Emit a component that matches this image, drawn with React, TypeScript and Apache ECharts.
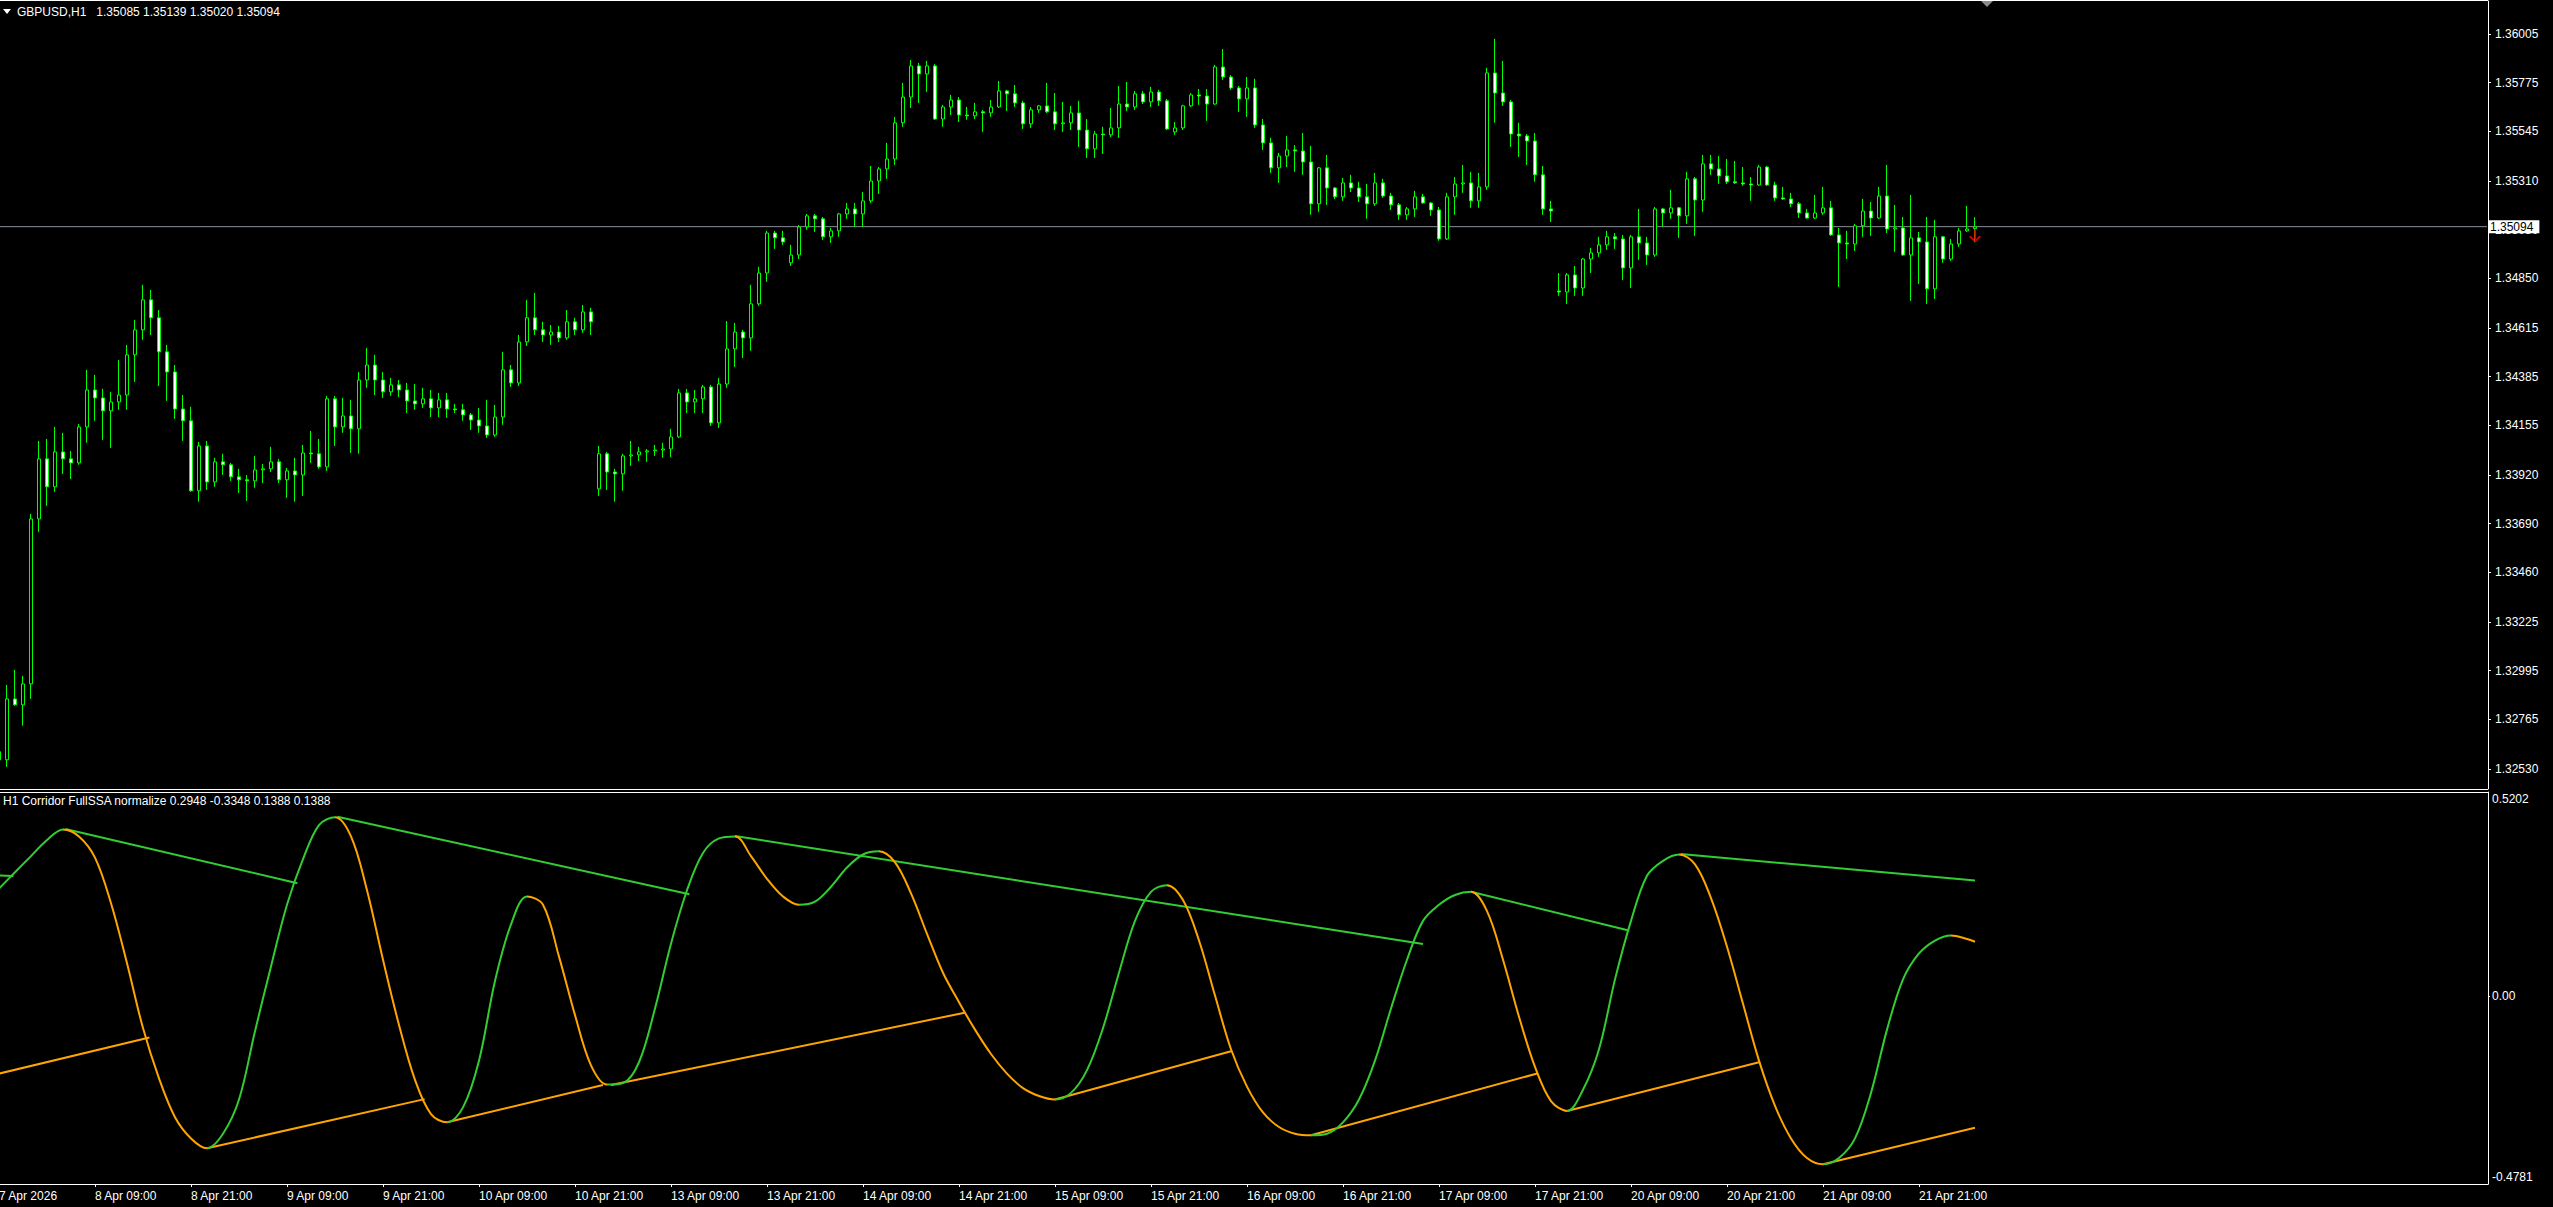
import React, { useEffect, useRef } from 'react';
import * as echarts from 'echarts';

const FONT = "'Liberation Sans', Arial, sans-serif";
const GREEN = '#32CD32';
const ORANGE = '#FFA500';
const CANDLE = '#00FF00';

// OHLC, bar index k = -1 .. 246 (7 Apr 21:00 .. 22 Apr 04:00), prices in points (1e-5)
const opens = [
  132611, 132573, 132861, 132833, 132932, 133712, 133996, 133864, 134029, 133996,
  133977, 134147, 134322, 134284, 134223, 134265, 134298, 134488, 134606, 134748,
  134663, 134502, 134407, 134232, 134176, 133845, 134057, 133887, 133982, 133968,
  133911, 133897, 133892, 133944, 133949, 133982, 133897, 133939, 133920, 134024,
  134020, 133958, 134280, 134147, 134199, 134138, 134369, 134440, 134369, 134313,
  134346, 134322, 134270, 134256, 134280, 134237, 134275, 134232, 134228, 134204,
  134180, 134152, 134109, 134194, 134417, 134355, 134549, 134663, 134606, 134582,
  134596, 134568, 134644, 134606, 134691, 133854, 134020, 133934, 133925, 134010,
  134015, 134029, 134034, 134038, 134043, 134100, 134308, 134265, 134280, 134336,
  134166, 134350, 134516, 134596, 134568, 134729, 134875, 135064, 135041, 134923,
  134960, 135093, 135145, 135131, 135046, 135074, 135154, 135178, 135154, 135216,
  135310, 135367, 135414, 135585, 135707, 135854, 135816, 135854, 135603, 135660,
  135693, 135622, 135618, 135637, 135632, 135660, 135736, 135722, 135679, 135580,
  135646, 135665, 135637, 135580, 135585, 135632, 135551, 135462, 135532, 135528,
  135561, 135674, 135660, 135722, 135684, 135731, 135689, 135542, 135561, 135665,
  135717, 135712, 135674, 135849, 135802, 135750, 135698, 135750, 135575, 135490,
  135372, 135428, 135457, 135452, 135400, 135202, 135372, 135277, 135235, 135301,
  135277, 135235, 135202, 135301, 135239, 135197, 135150, 135178, 135235, 135206,
  135173, 135036, 135235, 135296, 135301, 135216, 135282, 135821, 135726, 135684,
  135532, 135523, 135499, 135339, 135178, 134790, 134785, 134866, 134804, 134941,
  134970, 135008, 135046, 135036, 134899, 135046, 135017, 134960, 135178, 135159,
  135183, 135145, 135320, 135220, 135391, 135367, 135334, 135306, 135301, 135296,
  135291, 135376, 135291, 135230, 135225, 135202, 135159, 135135, 135159, 135183,
  135055, 135017, 135012, 135098, 135168, 135135, 135239, 135083, 135088, 134960,
  135041, 135022, 134800, 135046, 134941, 135012, 135074, 135085,
];
const highs = [
  132644, 132927, 132998, 132970, 133736, 134081, 134090, 134147, 134119, 134034,
  134161, 134417, 134393, 134327, 134313, 134464, 134535, 134653, 134819, 134795,
  134700, 134535, 134440, 134298, 134242, 134076, 134081, 134001, 134020, 133977,
  133949, 133920, 134010, 133972, 134053, 133996, 133953, 134001, 134062, 134128,
  134090, 134294, 134294, 134284, 134275, 134407, 134521, 134488, 134407, 134379,
  134369, 134355, 134350, 134332, 134322, 134308, 134308, 134256, 134256, 134213,
  134237, 134275, 134251, 134502, 134440, 134582, 134748, 134781, 134644, 134629,
  134625, 134700, 134663, 134724, 134710, 134057, 134029, 133949, 134020, 134081,
  134053, 134043, 134062, 134072, 134138, 134327, 134327, 134322, 134346, 134346,
  134379, 134648, 134639, 134606, 134819, 134904, 135074, 135074, 135074, 135008,
  135102, 135154, 135154, 135140, 135088, 135159, 135206, 135206, 135258, 135381,
  135376, 135490, 135613, 135774, 135882, 135868, 135878, 135863, 135670, 135717,
  135707, 135660, 135679, 135646, 135693, 135783, 135741, 135764, 135689, 135660,
  135670, 135774, 135726, 135684, 135665, 135689, 135603, 135547, 135566, 135655,
  135759, 135778, 135736, 135736, 135755, 135741, 135698, 135589, 135670, 135726,
  135745, 135745, 135859, 135934, 135811, 135759, 135802, 135793, 135603, 135514,
  135443, 135523, 135480, 135537, 135476, 135376, 135433, 135282, 135324, 135339,
  135306, 135296, 135348, 135320, 135254, 135206, 135187, 135263, 135249, 135211,
  135187, 135254, 135329, 135386, 135353, 135348, 135845, 135982, 135878, 135693,
  135585, 135532, 135537, 135381, 135216, 134875, 134875, 134908, 134946, 134994,
  135046, 135074, 135064, 135055, 135055, 135178, 135046, 135187, 135183, 135268,
  135187, 135353, 135329, 135433, 135433, 135428, 135414, 135405, 135376, 135329,
  135386, 135381, 135306, 135282, 135254, 135211, 135178, 135244, 135282, 135216,
  135088, 135074, 135107, 135225, 135211, 135282, 135386, 135197, 135140, 135244,
  135069, 135140, 135126, 135050, 135036, 135088, 135192, 135139,
];
const lows = [
  132549, 132540, 132828, 132734, 132861, 133651, 133774, 133840, 133925, 133901,
  133968, 134072, 134176, 134086, 134048, 134228, 134228, 134360, 134559, 134582,
  134341, 134270, 134185, 134081, 133840, 133793, 133849, 133864, 133920, 133892,
  133835, 133797, 133859, 133882, 133934, 133882, 133812, 133793, 133821, 133977,
  133949, 133939, 134057, 134119, 134024, 134020, 134332, 134298, 134284, 134294,
  134289, 134213, 134228, 134237, 134194, 134194, 134190, 134213, 134176, 134133,
  134119, 134095, 134100, 134157, 134336, 134341, 134530, 134582, 134549, 134535,
  134549, 134559, 134582, 134592, 134582, 133821, 133849, 133793, 133845, 133963,
  133986, 133982, 134010, 134001, 134005, 134095, 134213, 134213, 134213, 134152,
  134142, 134332, 134431, 134473, 134507, 134719, 134833, 134989, 135008, 134908,
  134941, 135079, 135069, 135031, 135017, 135046, 135131, 135093, 135093, 135206,
  135249, 135320, 135386, 135566, 135655, 135679, 135731, 135599, 135566, 135622,
  135589, 135599, 135603, 135542, 135613, 135655, 135641, 135660, 135556, 135561,
  135632, 135632, 135551, 135542, 135551, 135471, 135419, 135419, 135438, 135518,
  135514, 135641, 135646, 135674, 135660, 135665, 135551, 135528, 135551, 135660,
  135670, 135594, 135670, 135788, 135741, 135637, 135613, 135561, 135457, 135348,
  135301, 135376, 135353, 135339, 135150, 135164, 135197, 135225, 135216, 135258,
  135211, 135131, 135192, 135230, 135173, 135126, 135126, 135140, 135202, 135145,
  135027, 135031, 135150, 135254, 135183, 135183, 135268, 135585, 135665, 135471,
  135424, 135386, 135306, 135150, 135116, 134767, 134729, 134767, 134767, 134875,
  134951, 134984, 134989, 134842, 134804, 134937, 134913, 134951, 135093, 135131,
  135041, 135107, 135050, 135164, 135339, 135296, 135296, 135296, 135287, 135216,
  135287, 135287, 135216, 135220, 135187, 135135, 135131, 135131, 135150, 135050,
  134809, 134941, 134979, 135046, 135050, 135131, 135064, 134975, 134956, 134743,
  134823, 134729, 134752, 134923, 134932, 134998, 135069, 135020,
];
const closes = [
  132573, 132861, 132833, 132932, 133712, 133996, 133864, 134029, 133996, 133977,
  134147, 134322, 134284, 134223, 134265, 134298, 134488, 134606, 134748, 134663,
  134502, 134407, 134232, 134176, 133845, 134057, 133887, 133982, 133968, 133911,
  133897, 133892, 133944, 133949, 133982, 133897, 133939, 133920, 134024, 134020,
  133958, 134280, 134147, 134199, 134138, 134369, 134440, 134369, 134313, 134346,
  134322, 134270, 134256, 134280, 134237, 134275, 134232, 134228, 134204, 134180,
  134152, 134109, 134194, 134417, 134355, 134549, 134663, 134606, 134582, 134596,
  134568, 134644, 134606, 134691, 134644, 134020, 133934, 133925, 134010, 134015,
  134029, 134034, 134038, 134043, 134100, 134308, 134265, 134280, 134336, 134166,
  134350, 134516, 134596, 134568, 134729, 134875, 135064, 135041, 135022, 134960,
  135093, 135145, 135131, 135046, 135074, 135154, 135178, 135154, 135216, 135310,
  135367, 135414, 135585, 135707, 135854, 135816, 135854, 135603, 135660, 135693,
  135622, 135618, 135637, 135632, 135660, 135736, 135722, 135679, 135580, 135646,
  135665, 135637, 135580, 135585, 135632, 135551, 135462, 135532, 135528, 135561,
  135674, 135660, 135722, 135684, 135731, 135689, 135556, 135561, 135665, 135717,
  135712, 135674, 135849, 135802, 135750, 135698, 135750, 135575, 135490, 135372,
  135428, 135457, 135452, 135400, 135202, 135372, 135277, 135235, 135301, 135277,
  135235, 135202, 135301, 135239, 135197, 135150, 135178, 135235, 135206, 135173,
  135036, 135235, 135296, 135301, 135216, 135282, 135821, 135726, 135684, 135532,
  135523, 135499, 135339, 135178, 135168, 134785, 134866, 134804, 134941, 134970,
  135008, 135046, 135036, 134899, 135046, 135017, 134960, 135178, 135159, 135183,
  135145, 135320, 135220, 135391, 135367, 135334, 135306, 135301, 135296, 135291,
  135376, 135291, 135230, 135225, 135202, 135159, 135135, 135159, 135183, 135055,
  135017, 135012, 135098, 135168, 135135, 135239, 135083, 135088, 134960, 135041,
  135022, 134800, 135046, 134941, 135012, 135074, 135083, 135094,
];

const priceTicks = [1.36005, 1.35775, 1.35545, 1.3531, 1.3508, 1.3485, 1.34615, 1.34385, 1.34155, 1.3392, 1.3369, 1.3346, 1.33225, 1.32995, 1.32765, 1.3253];
const priceMin = 1.32435;
const priceMax = 1.36161;
const lastPrice = 1.35094;
const arrowBar = 246;
const arrowPrice = 1.3505;

const timeLabels = ['7 Apr 2026', '8 Apr 09:00', '8 Apr 21:00', '9 Apr 09:00', '9 Apr 21:00', '10 Apr 09:00', '10 Apr 21:00', '13 Apr 09:00', '13 Apr 21:00', '14 Apr 09:00', '14 Apr 21:00', '15 Apr 09:00', '15 Apr 21:00', '16 Apr 09:00', '16 Apr 21:00', '17 Apr 09:00', '17 Apr 21:00', '20 Apr 09:00', '20 Apr 21:00', '21 Apr 09:00', '21 Apr 21:00'];
const timeLabelBars = [-1, 11, 23, 35, 47, 59, 71, 83, 95, 107, 119, 131, 143, 155, 167, 179, 191, 203, 215, 227, 239];

// Indicator: oscillator samples (bar index, value)
const oscBars = [-1, 1, 3, 5, 7, 9, 11, 13, 15, 17, 19, 21, 23, 25, 27, 29, 31, 33, 35, 37, 39, 41, 43, 45, 47, 49, 51, 53, 55, 57, 59, 61, 63, 65, 67, 69, 71, 73, 75, 77, 79, 81, 83, 85, 87, 89, 91, 93, 95, 97, 99, 101, 103, 105, 107, 109, 111, 113, 115, 117, 119, 121, 123, 125, 127, 129, 131, 133, 135, 137, 139, 141, 143, 145, 147, 149, 151, 153, 155, 157, 159, 161, 163, 165, 167, 169, 171, 173, 175, 177, 179, 181, 183, 185, 187, 189, 191, 193, 195, 197, 199, 201, 203, 205, 207, 209, 211, 213, 215, 217, 219, 221, 223, 225, 227, 229, 231, 233, 235, 237, 239, 241, 243, 245, 246];
const oscVals = [
  0.274, 0.316, 0.357, 0.398, 0.425, 0.407, 0.353, 0.237, 0.084, -0.081,
  -0.209, -0.308, -0.362, -0.387, -0.35, -0.263, -0.089, 0.076, 0.233, 0.349,
  0.436, 0.456, 0.407, 0.27, 0.093, -0.073, -0.213, -0.3, -0.321, -0.283,
  -0.164, 0.039, 0.183, 0.254, 0.233, 0.101, -0.048, -0.176, -0.225, -0.221,
  -0.168, -0.031, 0.134, 0.27, 0.365, 0.402, 0.407, 0.357, 0.299, 0.254,
  0.233, 0.241, 0.279, 0.328, 0.361, 0.369, 0.341, 0.262, 0.159, 0.06,
  -0.015, -0.085, -0.147, -0.197, -0.234, -0.254, -0.263, -0.246, -0.188, -0.081,
  0.06, 0.192, 0.266, 0.283, 0.245, 0.142, 0.002, -0.135, -0.23, -0.296,
  -0.333, -0.35, -0.354, -0.35, -0.321, -0.263, -0.164, -0.031, 0.093, 0.192,
  0.233, 0.258, 0.266, 0.217, 0.093, -0.052, -0.18, -0.267, -0.292, -0.238,
  -0.135, 0.043, 0.192, 0.307, 0.345, 0.361, 0.336, 0.25, 0.126, -0.019,
  -0.164, -0.279, -0.362, -0.412, -0.428, -0.412, -0.362, -0.246, -0.085, 0.043,
  0.109, 0.142, 0.155, 0.146, 0.1388,
];
// Corridor segments: [barStart, valueStart, barEnd, valueEnd]
const upperSegs = [
  [-1, 0.308, 0.8, 0.306],
  [7.3, 0.426, 36.3, 0.288],
  [41.3, 0.457, 85.3, 0.26],
  [91, 0.408, 177, 0.133],
  [183, 0.266, 202.6, 0.168],
  [209.2, 0.362, 246, 0.2948],
];
const lowerSegs = [
  [-1, -0.197, 17.8, -0.105],
  [25, -0.387, 52.2, -0.262],
  [55, -0.321, 74.5, -0.226],
  [75.5, -0.226, 119.7, -0.042],
  [131, -0.263, 153, -0.14],
  [163, -0.354, 191.4, -0.196],
  [195, -0.292, 219, -0.168],
  [227, -0.428, 246, -0.3348],
];
const indTicks = [0.5202, 0, -0.4781];
const indMin = -0.4781;
const indMax = 0.5202;

const SLOTS = 312;

export default function App() {
  const ref = useRef<HTMLDivElement>(null);
  useEffect(() => {
    document.body.style.margin = '0';
    document.body.style.background = '#000';
    const chart = echarts.init(ref.current!, null, { renderer: 'svg' });
    const cats = Array.from({ length: SLOTS }, (_, i) => String(i));
    const candles = opens.map((o, i) => [o / 1e5, closes[i] / 1e5, lows[i] / 1e5, highs[i] / 1e5]);
    const segData = (segs: number[][]) => {
      const out: any[] = [];
      segs.forEach((s) => {
        out.push([s[0], s[1]], [s[2], s[3]], [s[2], null]);
      });
      return out;
    };
    const pieces: any[] = [];
    let segStart = -10;
    let up = oscVals[1] >= oscVals[0];
    for (let i = 1; i < oscVals.length - 1; i++) {
      const nu = oscVals[i + 1] >= oscVals[i];
      if (nu !== up) {
        pieces.push({ gte: segStart, lt: oscBars[i], color: up ? GREEN : ORANGE });
        segStart = oscBars[i];
        up = nu;
      }
    }
    pieces.push({ gte: segStart, lte: 400, color: up ? GREEN : ORANGE });

    const white = '#FFFFFF';
    const option: any = {
      animation: false,
      backgroundColor: '#000',
      textStyle: { fontFamily: FONT },
      grid: [
        { left: -5, top: 1, width: 2496, height: 788, outerBoundsMode: 'none', containLabel: false },
        { left: -5, top: 792, width: 2496, height: 392, outerBoundsMode: 'none', containLabel: false },
      ],
      xAxis: [
        { type: 'category', gridIndex: 0, data: cats, boundaryGap: true, show: false },
        {
          type: 'value', gridIndex: 1, min: -1.5, max: SLOTS - 1.5,
          axisLine: { show: false, onZero: false }, splitLine: { show: false },
          axisTick: { show: true, customValues: timeLabelBars, length: 3, lineStyle: { color: white } },
          axisLabel: {
            customValues: timeLabelBars, color: white, fontSize: 12, fontFamily: FONT, align: 'left', margin: 6,
            formatter: (v: number) => timeLabels[timeLabelBars.indexOf(v)] ?? '',
          },
        },
      ],
      yAxis: [
        {
          type: 'value', gridIndex: 0, position: 'right', offset: -3, min: priceMin, max: priceMax,
          splitLine: { show: false },
          axisLine: { show: true, onZero: false, lineStyle: { color: white, width: 1 } },
          axisTick: { show: true, customValues: priceTicks, length: 3, lineStyle: { color: white } },
          axisLabel: { customValues: priceTicks, color: white, fontSize: 12, fontFamily: FONT, margin: 7, formatter: (v: number) => v.toFixed(5) },
        },
        {
          type: 'value', gridIndex: 1, position: 'right', offset: -3, min: indMin, max: indMax,
          splitLine: { show: false },
          axisLine: { show: true, onZero: false, lineStyle: { color: white, width: 1 } },
          axisTick: { show: true, customValues: [0], length: 2, lineStyle: { color: white } },
          axisLabel: {
            customValues: indTicks, color: white, fontSize: 12, fontFamily: FONT, margin: 4,
            formatter: (v: number) => (v === 0 ? '0.00' : v > 0 ? '{t|' + v.toFixed(4) + '}' : '{b|' + v.toFixed(4) + '}'),
            rich: {
              t: { padding: [14, 0, 0, 0], color: white, fontSize: 12, fontFamily: FONT },
              b: { padding: [0, 0, 14, 0], color: white, fontSize: 12, fontFamily: FONT },
            },
          },
        },
        {
          type: 'value', gridIndex: 0, position: 'right', offset: -3, min: priceMin, max: priceMax, z: 10,
          splitLine: { show: false }, axisLine: { show: false, onZero: false }, axisTick: { show: false },
          axisLabel: {
            customValues: [lastPrice], margin: 1, color: '#000', backgroundColor: '#fff', padding: [1, 6, 0, 1],
            fontSize: 12, fontFamily: FONT, formatter: (v: number) => v.toFixed(5),
          },
        },
      ],
      visualMap: [{ show: false, type: 'piecewise', seriesIndex: 4, dimension: 0, pieces }],
      series: [
        {
          type: 'candlestick', xAxisIndex: 0, yAxisIndex: 0, data: candles, barWidth: 4, z: 3,
          itemStyle: { color: '#000', color0: '#fff', borderColor: CANDLE, borderColor0: CANDLE, borderColorDoji: CANDLE, borderWidth: 1 },
          silent: true,
        },
        {
          type: 'scatter', xAxisIndex: 0, yAxisIndex: 0, silent: true, z: 5,
          data: [[arrowBar + 1, arrowPrice]],
          symbol: 'path://M5,0 L7,0 L7,9.5 L10.5,6 L12,7.5 L6,13 L0,7.5 L1.5,6 L5,9.5 Z',
          symbolSize: [12, 13], itemStyle: { color: '#FF0000' },
        },
        {
          type: 'line', xAxisIndex: 1, yAxisIndex: 1, data: segData(upperSegs), showSymbol: false, connectNulls: false,
          lineStyle: { color: GREEN, width: 2 }, itemStyle: { color: GREEN }, silent: true,
        },
        {
          type: 'line', xAxisIndex: 1, yAxisIndex: 1, data: segData(lowerSegs), showSymbol: false, connectNulls: false,
          lineStyle: { color: ORANGE, width: 2 }, itemStyle: { color: ORANGE }, silent: true,
        },
        {
          type: 'line', xAxisIndex: 1, yAxisIndex: 1, data: oscBars.map((k, i) => [k, oscVals[i]]),
          smooth: 0.35, showSymbol: false, lineStyle: { width: 2 }, silent: true,
        },
        {
          type: 'line', xAxisIndex: 0, yAxisIndex: 0, z: 1, silent: true, showSymbol: false,
          data: [[0, lastPrice], [SLOTS - 1, lastPrice]],
          lineStyle: { color: '#8A8F99', width: 1 }, itemStyle: { color: '#8A8F99' },
        },
      ],
      graphic: [
        { type: 'polygon', shape: { points: [[3, 9], [11, 9], [7, 14]] }, style: { fill: white }, silent: true },
        { type: 'text', x: 17, y: 12, style: { text: 'GBPUSD,H1\u00a0\u00a0 1.35085 1.35139 1.35020 1.35094', fill: white, fontSize: 12, fontFamily: FONT, verticalAlign: 'middle' }, silent: true },
        { type: 'text', x: 3, y: 801, style: { text: 'H1 Corridor FullSSA normalize 0.2948 -0.3348 0.1388 0.1388', fill: white, fontSize: 12, fontFamily: FONT, verticalAlign: 'middle' }, silent: true },
        { type: 'line', shape: { x1: 0, y1: 0.5, x2: 2488, y2: 0.5 }, style: { stroke: white, lineWidth: 1 }, silent: true },
        { type: 'line', shape: { x1: 0, y1: 789.5, x2: 2488, y2: 789.5 }, style: { stroke: white, lineWidth: 1 }, silent: true },
        { type: 'line', shape: { x1: 0, y1: 792.5, x2: 2488, y2: 792.5 }, style: { stroke: white, lineWidth: 1 }, silent: true },
        { type: 'line', shape: { x1: 0, y1: 1184.5, x2: 2488.5, y2: 1184.5 }, style: { stroke: white, lineWidth: 1 }, silent: true },
        { type: 'polygon', shape: { points: [[1981, 1], [1993, 1], [1987, 7]] }, style: { fill: '#8A8A8A' }, silent: true },
      ],
    };
    chart.setOption(option);
    return () => chart.dispose();
  }, []);
  return <div ref={ref} style={{ position: 'fixed', left: 0, top: 0, width: 2553, height: 1207, background: '#000' }} />;
}
